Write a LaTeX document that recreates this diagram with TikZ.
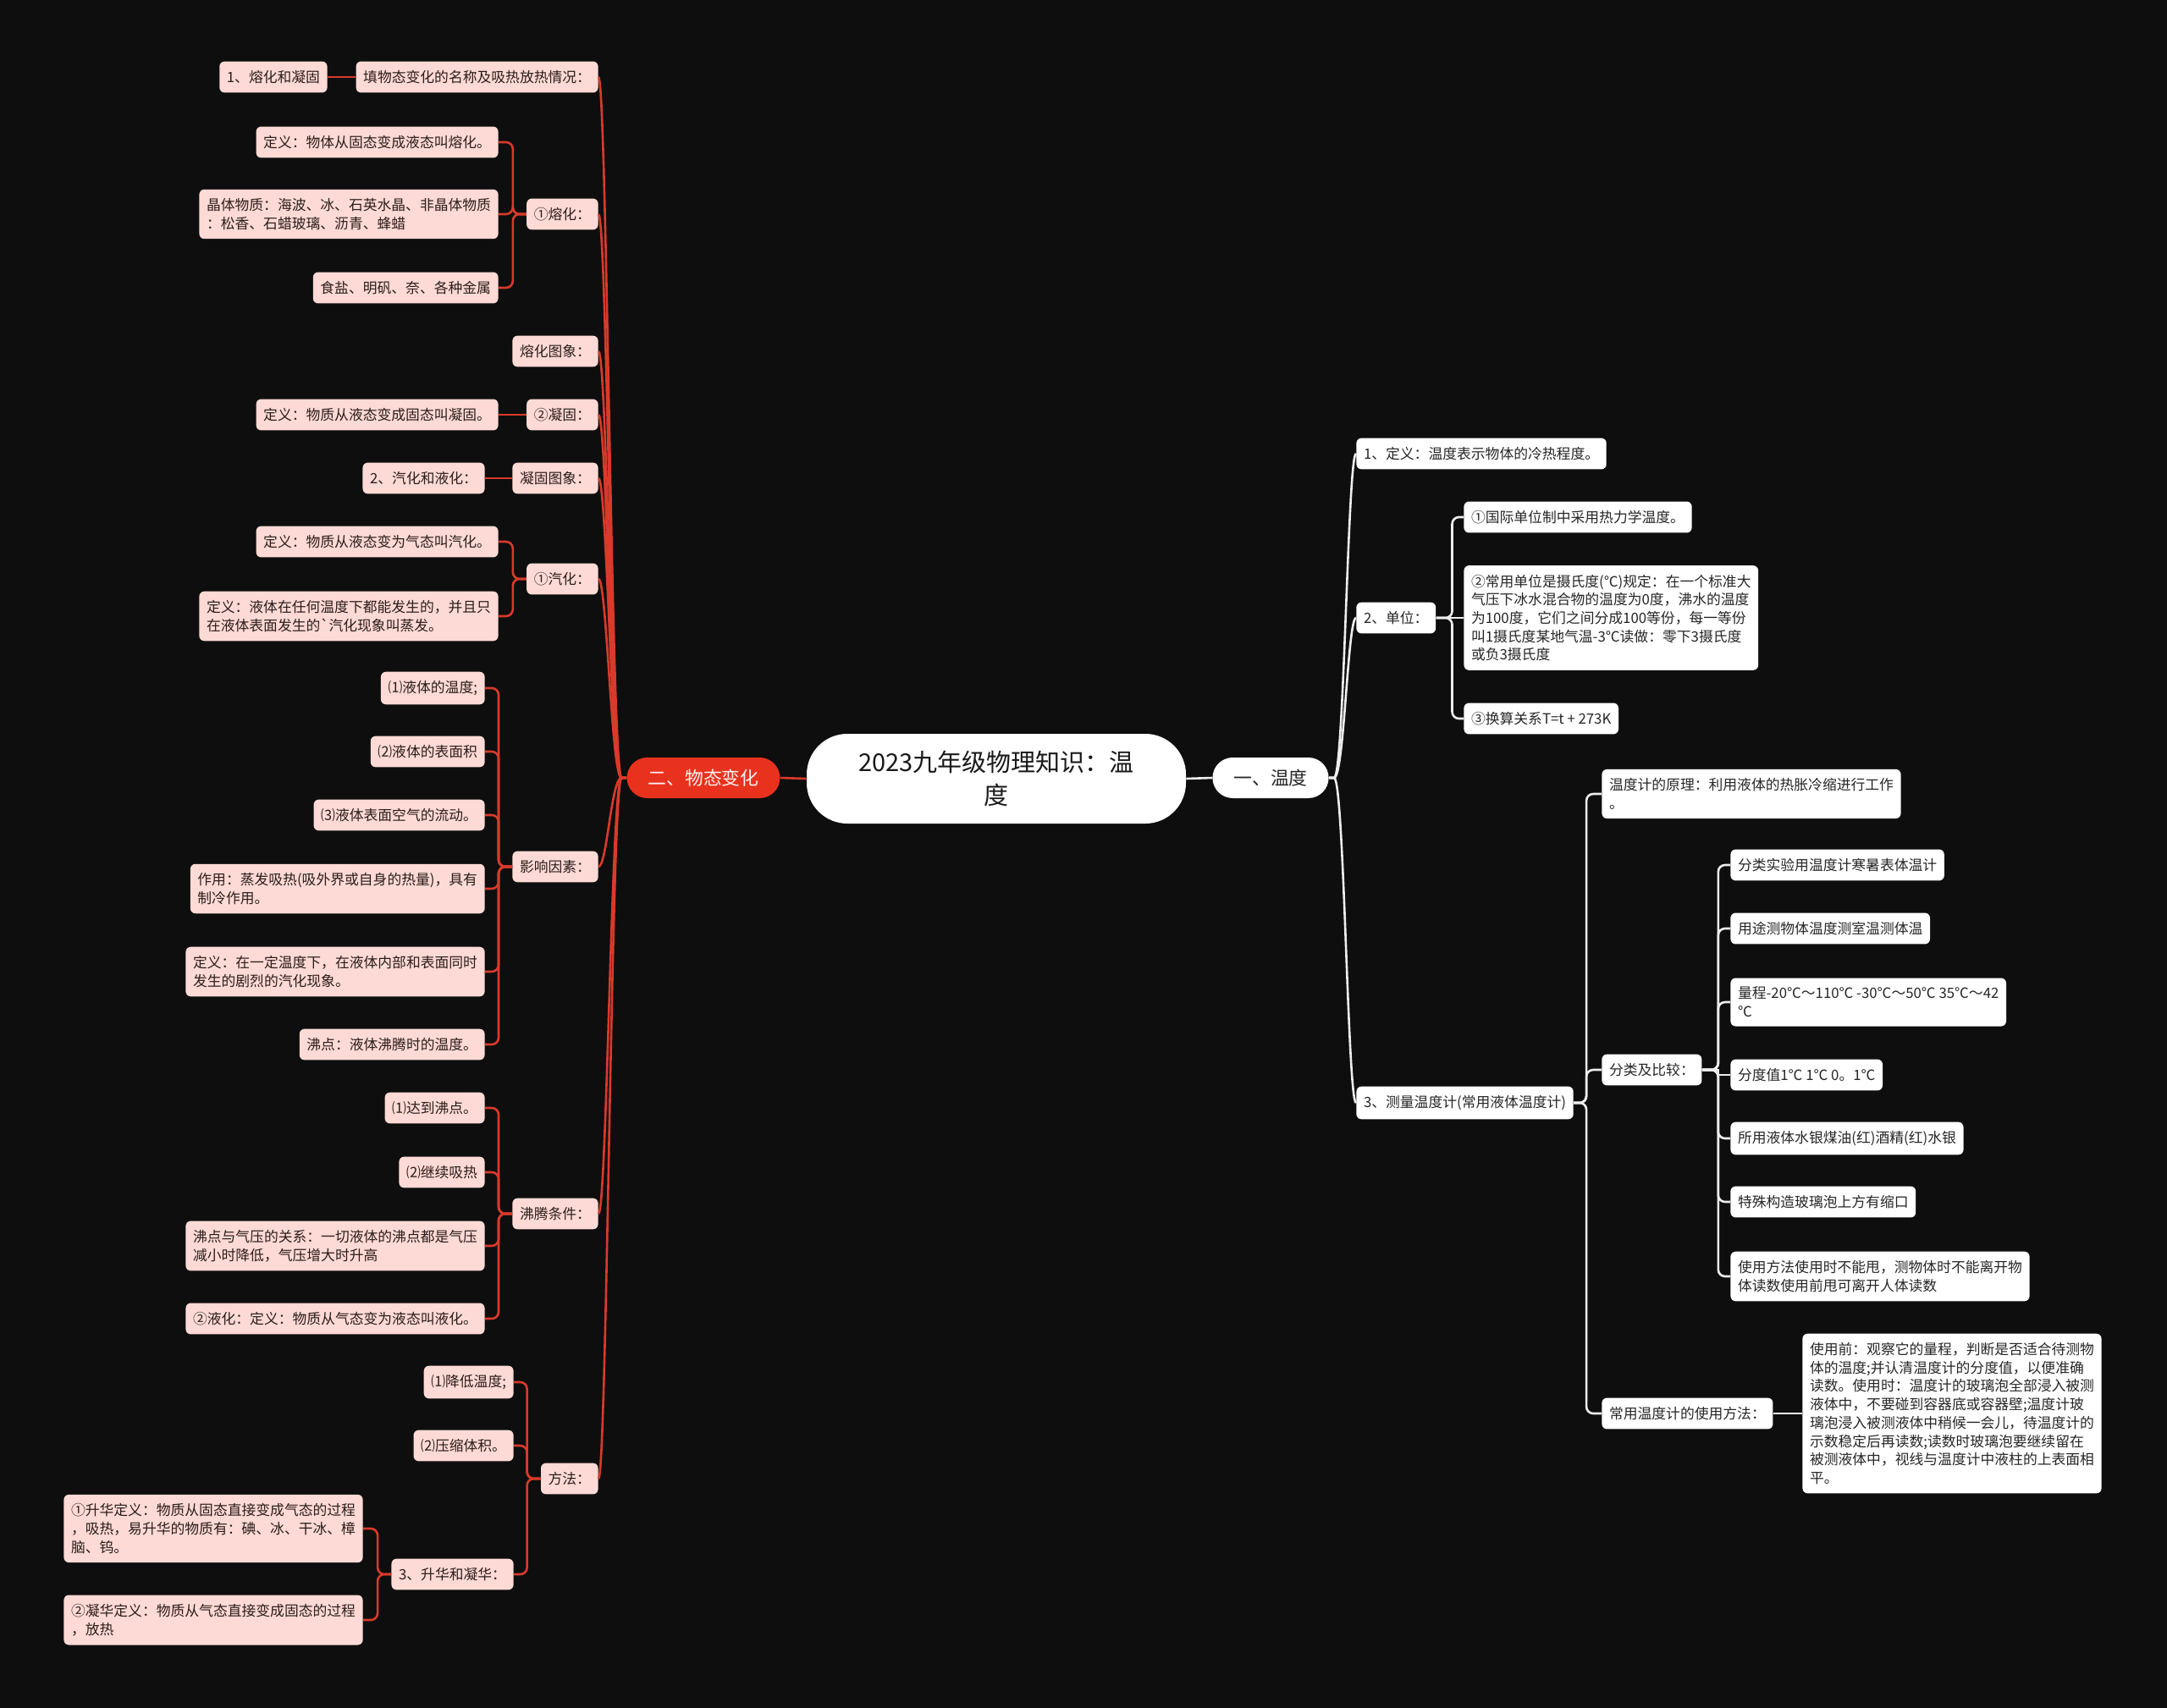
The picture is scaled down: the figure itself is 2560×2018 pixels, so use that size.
\documentclass[tikz,border=0pt]{standalone}
\usepackage{fontspec}
\setmainfont{Noto Sans CJK SC}
\usepackage{tikz}
\definecolor{bgdark}{HTML}{0E0E0E}
\definecolor{leafpink}{HTML}{FDDAD5}
\definecolor{branchred}{HTML}{E8321E}
\definecolor{linered}{HTML}{D93A2B}
\definecolor{inkdark}{HTML}{2B1D1B}
\definecolor{linewhite}{HTML}{EDEDED}
\tikzset{
  pinkleaf/.style={fill=leafpink,text=inkdark,rounded corners=3pt,align=left,anchor=east,
    inner xsep=4.3pt,inner ysep=5.3pt,font=\fontsize{8.4}{10.85}\selectfont},
  whiteleaf/.style={pinkleaf,fill=white,text=black!85,anchor=west},
  rootbox/.style={fill=white,text=black!90,align=center,minimum width=224pt,minimum height=53pt,
    rounded corners=24pt,font=\fontsize{14.5}{19.5}\selectfont},
  topicbox/.style={rounded corners=12pt,minimum height=24pt,inner xsep=12.5pt,
    font=\fontsize{10.9}{13}\selectfont},
  redwire/.style={draw=linered,line width=1.3pt},
  whitewire/.style={draw=linewhite,line width=1.3pt}
}
\newcommand{\lleaf}[4]{\node[pinkleaf] (#1) at (#2,#3) {#4};}
\newcommand{\rleaf}[4]{\node[whiteleaf] (#1) at (#2,#3) {#4};}
\newcommand{\lfork}[3]{%
  \foreach \c in {#3}{\draw[redwire,rounded corners=4pt] (#1.west) -- ++(-#2,0) |- (\c.east);}}
\newcommand{\rfork}[3]{%
  \foreach \c in {#3}{\draw[whitewire,rounded corners=4pt] (#1.east) -- ++(#2,0) |- (\c.west);}}

\begin{document}
\begin{tikzpicture}[x=0.5pt,y=-0.5pt]
  \fill[bgdark] (0,0) rectangle (2560,2018);
  \useasboundingbox (0,0) rectangle (2560,2018);
  \node[rootbox] (root) at (1177,920) {2023九年级物理知识：温\\度};
  \node[topicbox,fill=branchred,text=red!6] (mat) at (831,919) {二、物态变化};
  \node[topicbox,fill=white,text=black!85] (tmp) at (1501,919) {一、温度};
  \draw[redwire] (root.west) -- (mat.east);
  \draw[whitewire] (root.east) -- (tmp.west);

  \lleaf{fillq}{707}{91}{填物态变化的名称及吸热放热情况：}
  \lleaf{m1}{387}{91}{1、熔化和凝固}
  \lleaf{dm}{589}{168}{定义：物体从固态变成液态叫熔化。}
  \lleaf{cr}{589}{253}{晶体物质：海波、冰、石英水晶、非晶体物质\\：松香、石蜡玻璃、沥青、蜂蜡}
  \lleaf{melt}{707}{253}{①熔化：}
  \lleaf{salt}{589}{340}{食盐、明矾、奈、各种金属}
  \lleaf{mimg}{707}{415}{熔化图象：}
  \lleaf{ds}{589}{490}{定义：物质从液态变成固态叫凝固。}
  \lleaf{sol}{707}{490}{②凝固：}
  \lleaf{simg}{707}{565}{凝固图象：}
  \lleaf{m2}{573}{565}{2、汽化和液化：}
  \lleaf{dv}{589}{640}{定义：物质从液态变为气态叫汽化。}
  \lleaf{vap}{707}{684}{①汽化：}
  \lleaf{ev}{589}{728}{定义：液体在任何温度下都能发生的，并且只\\在液体表面发生的\textasciigrave 汽化现象叫蒸发。}
  \lleaf{f1}{573}{813}{⑴液体的温度;}
  \lleaf{f2}{573}{888}{⑵液体的表面积}
  \lleaf{f3}{573}{963}{⑶液体表面空气的流动。}
  \lleaf{fac}{707}{1024}{影响因素：}
  \lleaf{eff}{573}{1050}{作用：蒸发吸热(吸外界或自身的热量)，具有\\制冷作用。}
  \lleaf{bd}{573}{1148}{定义：在一定温度下，在液体内部和表面同时\\发生的剧烈的汽化现象。}
  \lleaf{bp}{573}{1234}{沸点：液体沸腾时的温度。}
  \lleaf{c1}{573}{1309}{⑴达到沸点。}
  \lleaf{c2}{573}{1385}{⑵继续吸热}
  \lleaf{cond}{707}{1434}{沸腾条件：}
  \lleaf{pr}{573}{1472}{沸点与气压的关系：一切液体的沸点都是气压\\减小时降低，气压增大时升高}
  \lleaf{liq}{573}{1558}{②液化：定义：物质从气态变为液态叫液化。}
  \lleaf{w1}{607}{1633}{⑴降低温度;}
  \lleaf{w2}{607}{1708}{⑵压缩体积。}
  \lleaf{way}{707}{1747}{方法：}
  \lleaf{m3}{607}{1860}{3、升华和凝华：}
  \lleaf{sub}{429}{1806}{①升华定义：物质从固态直接变成气态的过程\\，吸热，易升华的物质有：碘、冰、干冰、樟\\脑、钨。}
  \lleaf{dep}{429}{1914}{②凝华定义：物质从气态直接变成固态的过程\\，放热}

  \foreach \c in {fillq,melt,mimg,sol,simg,vap,fac,cond,way}
    \draw[redwire] (mat.west) -- ++(-6,0) .. controls +(-12,0) and +(10,0) .. (\c.east);
  \draw[redwire] (fillq.west) -- (m1.east);
  \draw[redwire] (sol.west) -- (ds.east);
  \draw[redwire] (simg.west) -- (m2.east);
  \lfork{melt}{16}{dm,cr,salt}
  \lfork{vap}{16}{dv,ev}
  \lfork{fac}{16}{f1,f2,f3,eff,bd,bp}
  \lfork{cond}{16}{c1,c2,pr,liq}
  \lfork{way}{16}{w1,w2,m3}
  \lfork{m3}{16}{sub,dep}

  \rleaf{d1}{1602}{536}{1、定义：温度表示物体的冷热程度。}
  \rleaf{unit}{1602}{730}{2、单位：}
  \rleaf{u1}{1729}{611}{①国际单位制中采用热力学温度。}
  \rleaf{u2}{1729}{730}{②常用单位是摄氏度(℃)规定：在一个标准大\\气压下冰水混合物的温度为0度，沸水的温度\\为100度，它们之间分成100等份，每一等份\\叫1摄氏度某地气温-3℃读做：零下3摄氏度\\或负3摄氏度}
  \rleaf{u3}{1729}{849}{③换算关系T=t + 273K}
  \rleaf{meas}{1602}{1303}{3、测量温度计(常用液体温度计)}
  \rleaf{prin}{1892}{938}{温度计的原理：利用液体的热胀冷缩进行工作\\。}
  \rleaf{cls}{1892}{1264}{分类及比较：}
  \rleaf{k1}{2044}{1022}{分类实验用温度计寒暑表体温计}
  \rleaf{k2}{2044}{1097}{用途测物体温度测室温测体温}
  \rleaf{k3}{2044}{1184}{量程-20℃～110℃ -30℃～50℃ 35℃～42\\℃}
  \rleaf{k4}{2044}{1270}{分度值1℃ 1℃ 0。1℃}
  \rleaf{k5}{2044}{1345}{所用液体水银煤油(红)酒精(红)水银}
  \rleaf{k6}{2044}{1420}{特殊构造玻璃泡上方有缩口}
  \rleaf{k7}{2044}{1508}{使用方法使用时不能甩，测物体时不能离开物\\体读数使用前甩可离开人体读数}
  \rleaf{use}{1892}{1670}{常用温度计的使用方法：}
  \rleaf{ut}{2129}{1670}{使用前：观察它的量程，判断是否适合待测物\\体的温度;并认清温度计的分度值，以便准确\\读数。使用时：温度计的玻璃泡全部浸入被测\\液体中，不要碰到容器底或容器壁;温度计玻\\璃泡浸入被测液体中稍候一会儿，待温度计的\\示数稳定后再读数;读数时玻璃泡要继续留在\\被测液体中，视线与温度计中液柱的上表面相\\平。}

  \foreach \c in {d1,unit,meas}
    \draw[whitewire] (tmp.east) -- ++(6,0) .. controls +(12,0) and +(-10,0) .. (\c.west);
  \draw[whitewire] (unit.east) -- (u2.west);
  \rfork{unit}{19}{u1,u3}
  \rfork{meas}{15}{prin,cls,use}
  \draw[whitewire] (cls.east) -- ++(19,0) |- (k4.west);
  \rfork{cls}{19}{k1,k2,k3,k5,k6,k7}
  \draw[whitewire] (use.east) -- (ut.west);
\end{tikzpicture}
\end{document}
